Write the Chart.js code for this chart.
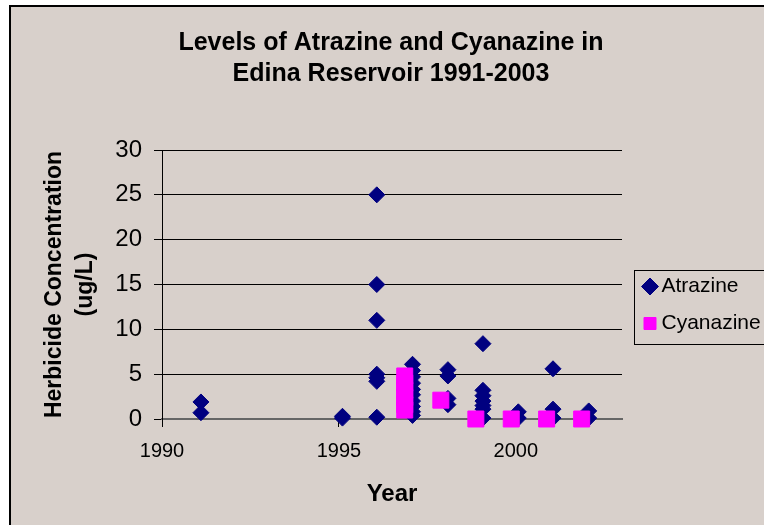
<!DOCTYPE html>
<html>
<head>
<meta charset="utf-8">
<script src="https://cdn.jsdelivr.net/npm/chart.js@4"></script>
<style>
  html, body { margin: 0; padding: 0; background: #fff; }
  #wrap { width: 764px; height: 525px; }
</style>
</head>
<body>
<div id="wrap"><canvas id="herbChart" width="764" height="525"></canvas></div>
<script>
// values (year positions are offset a little like in the original)
const atrazineYears = [
  1991.1, 1991.1,
  1995.1, 1995.1,
  1996.07, 1996.07, 1996.07, 1996.07, 1996.07, 1996.07, 1996.07,
  1997.08, 1997.08, 1997.08, 1997.08, 1997.08, 1997.08, 1997.08, 1997.08, 1997.08, 1997.08,
  1998.08, 1998.08, 1998.08, 1998.08,
  1999.07, 1999.07, 1999.07, 1999.07, 1999.07, 1999.07, 1999.07,
  2000.07, 2000.07,
  2001.05, 2001.05, 2001.05,
  2002.06, 2002.06
];
const atrazineLevels = [
  1.9, 0.7,
  0.3, 0.1,
  25, 15, 11, 5.0, 4.6, 4.2, 0.2,
  6.1, 5.4, 4.7, 4.0, 3.3, 2.7, 2.0, 1.4, 0.8, 0.4,
  5.5, 4.8, 2.3, 1.6,
  8.4, 3.2, 2.6, 2.0, 1.5, 1.1, 0.1,
  0.8, 0.1,
  5.6, 1.1, 0.1,
  0.9, 0.1
];
const cyanazineYears = [1996.86, 1996.86, 1996.86, 1996.86, 1996.86, 1996.86, 1997.88, 1998.87, 1999.87, 2000.87, 2001.86];
const cyanazineLevels = [4.8, 4.0, 3.2, 2.4, 1.6, 1.0, 2.1, 0, 0, 0, 0];

const xTickYears = [1990, 1995, 2000];

const FONT = 'Arial, "Liberation Sans", sans-serif';
Chart.defaults.font.family = FONT;
Chart.defaults.color = '#000';

const toPoints = (xs, ys) => xs.map((x, i) => ({ x: x, y: ys[i] }));

// excel-like grey page with a black frame, plus the legend box
const frame = {
  id: 'frame',
  beforeDraw(chart) {
    const c = chart.ctx;
    c.save();
    c.fillStyle = '#fff';
    c.fillRect(0, 0, chart.width, chart.height);
    c.fillStyle = '#d8d0cb';
    c.fillRect(10, 6, chart.width, chart.height);
    c.strokeStyle = '#000';
    c.lineWidth = 2;
    c.beginPath();
    c.moveTo(10, chart.height);
    c.lineTo(10, 6);
    c.lineTo(chart.width, 6);
    c.stroke();
    c.restore();
  },
  afterLayout(chart) {
    // title centred over the whole grey area, legend moved where excel had it
    const tb = chart.titleBlock;
    tb.left = 18;
    tb.right = chart.width;
    tb.width = tb.right - tb.left;

    const lg = chart.legend;
    lg.left = 633;
    lg.top = 260;
    lg.right = chart.width;
    lg.bottom = chart.height;
    lg.width = lg.right - lg.left;
    lg.height = lg.bottom - lg.top;
  },
  afterDraw(chart) {
    const lg = chart.legend;
    const c = chart.ctx;
    c.save();
    c.strokeStyle = '#000';
    c.lineWidth = 1;
    c.strokeRect(lg.left + 1.5, lg.top + 10.5, 300, 74);
    c.restore();
  }
};

new Chart(document.getElementById('herbChart'), {
  type: 'scatter',
  data: {
    datasets: [{
      label: 'Atrazine',
      data: toPoints(atrazineYears, atrazineLevels),
      pointStyle: 'rectRot',
      pointRadius: 8,
      backgroundColor: '#000080',
      borderColor: '#000080',
      borderWidth: 1,
      order: 1,
      clip: false
    }, {
      label: 'Cyanazine',
      data: toPoints(cyanazineYears, cyanazineLevels),
      pointStyle: 'rect',
      pointRadius: 11.3,
      backgroundColor: '#ff00ff',
      borderColor: '#ff00ff',
      borderWidth: 1,
      order: 0,
      clip: false
    }]
  },
  options: {
    responsive: false,
    animation: false,
    layout: { padding: { left: 18, top: 0, right: 42, bottom: 0 } },
    plugins: {
      tooltip: { enabled: false },
      title: {
        display: true,
        text: ['Levels of Atrazine and Cyanazine in', 'Edina Reservoir 1991-2003'],
        font: { size: 25, weight: 'bold', lineHeight: '31px' },
        color: '#000',
        padding: { top: 28, bottom: 60 }
      },
      legend: {
        position: 'right',
        align: 'start',
        maxWidth: 100,
        labels: {
          usePointStyle: true,
          boxWidth: 2,
          boxHeight: 12,
          padding: 16,
          font: { size: 21 },
          color: '#000',
          sort: (a, b) => a.datasetIndex - b.datasetIndex
        }
      }
    },
    scales: {
      x: {
        type: 'linear',
        min: 1990,
        max: 2003,
        afterFit: s => { s.height = 106; },
        afterBuildTicks: s => { s.ticks = xTickYears.map(v => ({ value: v })); },
        ticks: { font: { size: 20 }, padding: 12, callback: v => String(v) },
        grid: { drawOnChartArea: false, tickLength: 8, tickColor: '#000' },
        border: { color: '#666', width: 2 },
        title: {
          display: true,
          text: 'Year',
          font: { size: 24, weight: 'bold' },
          padding: { top: 0, bottom: 16 }
        }
      },
      y: {
        min: 0,
        max: 30,
        afterFit: s => { s.width = 144; },
        ticks: { stepSize: 5, font: { size: 24 }, padding: 12 },
        grid: {
          color: ctx => ctx.tick && ctx.tick.value === 0 ? '#666' : '#000',
          tickColor: '#000',
          tickLength: 8
        },
        border: { color: '#000', width: 1 },
        title: {
          display: true,
          text: ['Herbicide Concentration', '(ug/L)'],
          font: { size: 23, weight: 'bold', lineHeight: '31px' },
          padding: { top: 21, bottom: 0 }
        }
      }
    }
  },
  plugins: [frame]
});
</script>
</body>
</html>
